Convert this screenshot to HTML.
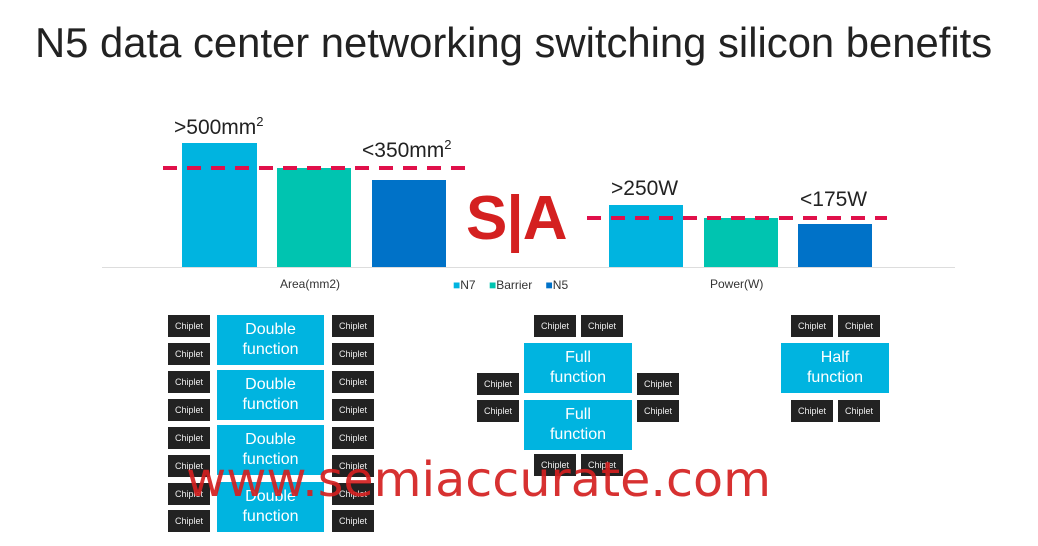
<!DOCTYPE html>
<html><head><meta charset="utf-8"><style>
body{margin:0;width:1038px;height:546px;background:#fff;position:relative;overflow:hidden;font-family:"Liberation Sans",sans-serif}
div{position:absolute;box-sizing:border-box}
.c{background:#222;color:#eee;font-size:9px;width:42px;height:22px;display:flex;align-items:center;justify-content:center}
.f{background:#00b4e0;color:#fff;font-size:16px;line-height:20px;text-align:center;display:flex;align-items:center;justify-content:center}
.t{font-size:21px;color:#222}
.l{font-size:12px;color:#333}
</style></head><body>
<div style="left:35px;top:19px;font-size:41.8px;color:#222;white-space:nowrap">N5 data center networking switching silicon benefits</div>
<div style="left:102px;top:267px;width:853px;height:1px;background:#ddd"></div>
<div style="left:182px;top:143px;width:75px;height:124px;background:#00b4e0"></div>
<div style="left:277px;top:168px;width:74px;height:99px;background:#00c4b0"></div>
<div style="left:372px;top:180px;width:74px;height:87px;background:#0072c8"></div>
<div style="left:609px;top:205px;width:74px;height:62px;background:#00b4e0"></div>
<div style="left:704px;top:218px;width:74px;height:49px;background:#00c4b0"></div>
<div style="left:798px;top:224px;width:74px;height:43px;background:#0072c8"></div>
<div style="left:163px;top:166px;width:302px;height:4px;background:repeating-linear-gradient(90deg,#e0104a 0 14px,transparent 14px 24px)"></div>
<div style="left:587px;top:216px;width:300px;height:4px;background:repeating-linear-gradient(90deg,#e0104a 0 14px,transparent 14px 24px)"></div>
<div class="t" style="left:174px;top:114px">&gt;500mm<sup style="font-size:13px">2</sup></div>
<div class="t" style="left:362px;top:137px">&lt;350mm<sup style="font-size:13px">2</sup></div>
<div class="t" style="left:611px;top:177px">&gt;250W</div>
<div class="t" style="left:800px;top:188px">&lt;175W</div>
<div class="l" style="left:280px;top:277px">Area(mm2)</div>
<div class="l" style="left:710px;top:277px">Power(W)</div>
<div class="l" style="left:453px;top:278px"><span style="color:#00b4e0">■</span>N7 &nbsp;&nbsp;&nbsp;<span style="color:#00c4b0">■</span>Barrier &nbsp;&nbsp;&nbsp;<span style="color:#0072c8">■</span>N5</div>
<div style="left:466px;top:183px;font-size:62px;font-weight:bold;color:#d42020;letter-spacing:-1px">S|A</div>

<div class="c" style="left:168px;top:315px">Chiplet</div><div class="c" style="left:168px;top:343px">Chiplet</div>
<div class="c" style="left:168px;top:371px">Chiplet</div><div class="c" style="left:168px;top:399px">Chiplet</div>
<div class="c" style="left:168px;top:427px">Chiplet</div><div class="c" style="left:168px;top:455px">Chiplet</div>
<div class="c" style="left:168px;top:483px">Chiplet</div><div class="c" style="left:168px;top:510px">Chiplet</div>
<div class="c" style="left:332px;top:315px">Chiplet</div><div class="c" style="left:332px;top:343px">Chiplet</div>
<div class="c" style="left:332px;top:371px">Chiplet</div><div class="c" style="left:332px;top:399px">Chiplet</div>
<div class="c" style="left:332px;top:427px">Chiplet</div><div class="c" style="left:332px;top:455px">Chiplet</div>
<div class="c" style="left:332px;top:483px">Chiplet</div><div class="c" style="left:332px;top:510px">Chiplet</div>
<div class="f" style="left:217px;top:315px;width:107px;height:50px">Double<br>function</div>
<div class="f" style="left:217px;top:370px;width:107px;height:50px">Double<br>function</div>
<div class="f" style="left:217px;top:425px;width:107px;height:50px">Double<br>function</div>
<div class="f" style="left:217px;top:482px;width:107px;height:50px">Double<br>function</div>

<div class="c" style="left:534px;top:315px">Chiplet</div><div class="c" style="left:581px;top:315px">Chiplet</div>
<div class="f" style="left:524px;top:343px;width:108px;height:50px">Full<br>function</div>
<div class="f" style="left:524px;top:400px;width:108px;height:50px">Full<br>function</div>
<div class="c" style="left:477px;top:373px">Chiplet</div><div class="c" style="left:477px;top:400px">Chiplet</div>
<div class="c" style="left:637px;top:373px">Chiplet</div><div class="c" style="left:637px;top:400px">Chiplet</div>
<div class="c" style="left:534px;top:454px">Chiplet</div><div class="c" style="left:581px;top:454px">Chiplet</div>

<div class="c" style="left:791px;top:315px">Chiplet</div><div class="c" style="left:838px;top:315px">Chiplet</div>
<div class="f" style="left:781px;top:343px;width:108px;height:50px">Half<br>function</div>
<div class="c" style="left:791px;top:400px">Chiplet</div><div class="c" style="left:838px;top:400px">Chiplet</div>

<svg style="position:absolute;left:0;top:0" width="1038" height="546"><text x="186" y="496" font-family="DejaVu Sans, sans-serif" font-size="48.5" fill="#d42020" fill-opacity="0.92" textLength="585" lengthAdjust="spacingAndGlyphs">www.semiaccurate.com</text></svg>
</body></html>
